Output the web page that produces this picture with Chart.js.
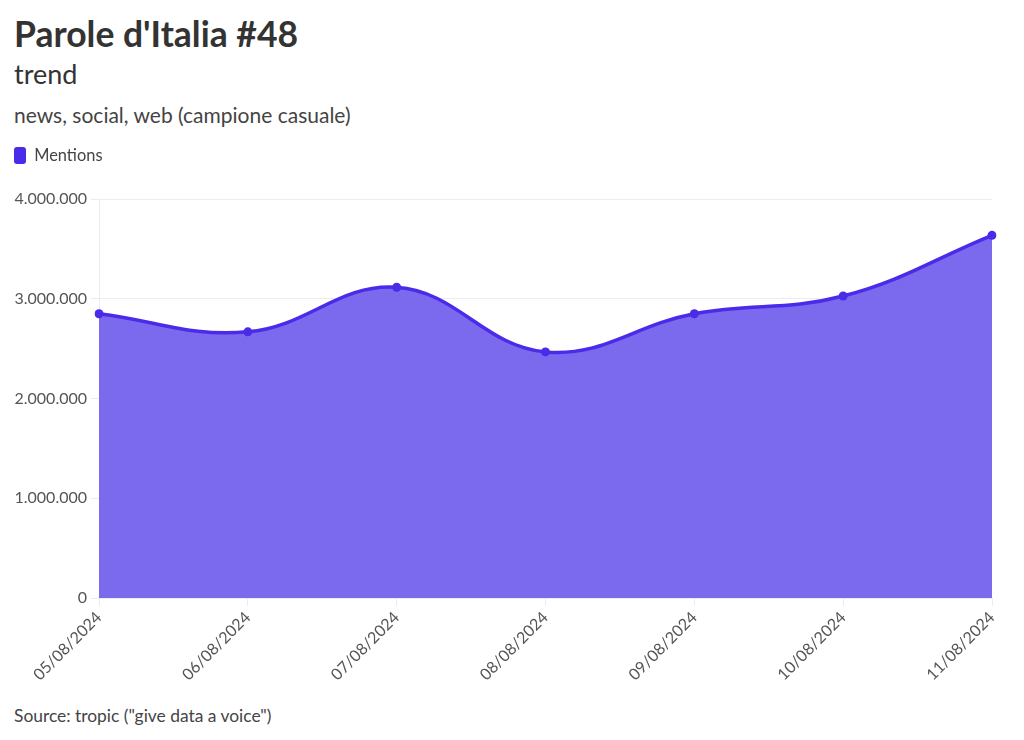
<!DOCTYPE html>
<html>
<head>
<meta charset="utf-8">
<script src="https://cdn.jsdelivr.net/npm/chart.js@4"></script>
<style>
  body { margin: 0; background: #fff; font-family: Lato, sans-serif; color: #333; }
  #title { position: absolute; left: 14px; top: 13px; font-size: 35.5px; font-weight: bold; line-height: 42px; color: #333; }
  #subtitle { position: absolute; left: 14px; top: 57px; font-size: 27px; line-height: 34px; color: #333; }
  #desc { position: absolute; left: 14px; top: 101px; font-size: 21px; line-height: 28px; color: #444; }
  #source { position: absolute; left: 14px; top: 704px; font-size: 17.4px; line-height: 24px; color: #444; }
  #wrap { position: absolute; left: 0; top: 137px; width: 1024px; height: 561px; }
</style>
</head>
<body>
<div id="title">Parole d'Italia #48</div>
<div id="subtitle">trend</div>
<div id="desc">news, social, web (campione casuale)</div>
<div id="wrap"><canvas id="chart"></canvas></div>
<div id="source">Source: tropic ("give data a voice")</div>
<script>
// dates on the x axis
var dates = ["05/08/2024", "06/08/2024", "07/08/2024", "08/08/2024", "09/08/2024", "10/08/2024", "11/08/2024"];
// mentions per day
var mentions = [2850000, 2668000, 3115000, 2467000, 2850000, 3027000, 3636000];
var seriesName = "Mentions";
var yTicks = [0, 1000000, 2000000, 3000000, 4000000];

var lineColor = "#4a2be9";
var fillColor = "#7b69ee";

function itNumber(v) {
  return String(v).replace(/\B(?=(\d{3})+(?!\d))/g, ".");
}

// extra room under the legend
var legendGap = {
  id: "legendGap",
  beforeInit: function (chart) {
    var fit = chart.legend.fit;
    chart.legend.fit = function () {
      fit.bind(chart.legend)();
      this.height += 25;
    };
  },
};

var ctx = document.getElementById("chart").getContext("2d");
var chart = new Chart(ctx, {
  type: "line",
  data: {
    labels: dates,
    datasets: [
      {
        label: seriesName,
        data: mentions,
        borderColor: lineColor,
        backgroundColor: fillColor,
        fill: true,
        tension: 0.4,
        borderWidth: 3.5,
        pointRadius: 4.5,
        pointBackgroundColor: lineColor,
        pointBorderWidth: 0,
      },
    ],
  },
  plugins: [legendGap],
  options: {
    responsive: true,
    maintainAspectRatio: false,
    animation: false,
    layout: { padding: { left: 4, right: 32, top: 0, bottom: 0 } },
    plugins: {
      legend: {
        position: "top",
        align: "start",
        labels: {
          font: { family: "Lato", size: 16.4 },
          color: "#444",
          boxWidth: 12,
          boxHeight: 17,
          useBorderRadius: true,
          borderRadius: 3,
          padding: 10,
          generateLabels: function (chart) {
            var items = Chart.defaults.plugins.legend.labels.generateLabels(chart);
            items.forEach(function (it) {
              it.fillStyle = lineColor;
              it.strokeStyle = lineColor;
              it.lineWidth = 0;
            });
            return items;
          },
        },
      },
      tooltip: { enabled: false },
    },
    scales: {
      x: {
        grid: { color: "#ececec", tickLength: 8, drawOnChartArea: false },
        border: { color: "#ececec" },
        ticks: {
          font: { family: "Lato", size: 16 },
          color: "#555",
          maxRotation: 45,
          minRotation: 45,
          padding: 2,
        },
        afterFit: function (scale) { scale.height = 100; },
      },
      y: {
        min: 0,
        max: 4000000,
        afterBuildTicks: function (scale) {
          scale.ticks = yTicks.map(function (v) { return { value: v }; });
        },
        grid: { color: "#ececec", tickLength: 8 },
        border: { color: "#ececec" },
        ticks: {
          font: { family: "Lato", size: 16 },
          color: "#555",
          padding: 4,
          callback: function (v) { return itNumber(v); },
        },
        afterFit: function (scale) { scale.width = 95; },
      },
    },
  },
});
</script>
</body>
</html>
